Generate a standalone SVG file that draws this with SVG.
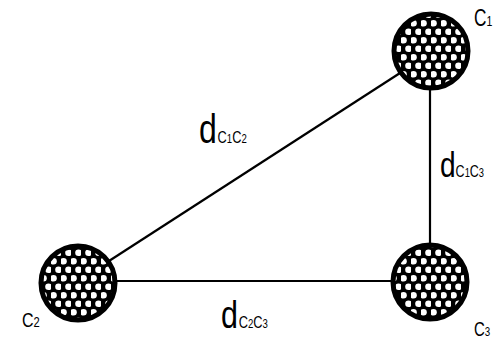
<svg xmlns="http://www.w3.org/2000/svg" width="493" height="339" viewBox="0 0 493 339">
<style>
.edge{stroke:#000;stroke-width:2.2;fill:none}
.node{fill:url(#dots);stroke:#000;stroke-width:5}
.lbl{font-family:"Liberation Sans",Arial,sans-serif;fill:#000}
</style>
<defs>
<pattern id="dots" patternUnits="userSpaceOnUse" width="10" height="17" x="1" y="2">
<rect width="10" height="17" fill="#000"/>
<circle cx="2.5" cy="4.25" r="3.3" fill="#fff"/>
<circle cx="7.5" cy="12.75" r="3.3" fill="#fff"/>
</pattern>
</defs>
<rect width="493" height="339" fill="#fff"/>
<g id="connectors">
<line class="edge" x1="78" y1="281" x2="431" y2="53"/>
<line class="edge" x1="78" y1="281" x2="430" y2="281"/>
<line class="edge" x1="430" y1="51" x2="430" y2="282"/>
</g>
<g id="c1">
<circle class="node" cx="431" cy="51" r="37"/>
<text class="lbl" transform="translate(474,26) scale(0.75,1)" font-size="23">C<tspan font-size="14">1</tspan></text>
</g>
<g id="c3">
<circle class="node" cx="430" cy="282" r="37"/>
<text class="lbl" transform="translate(474,336) scale(0.75,1)" font-size="20">C<tspan font-size="13">3</tspan></text>
</g>
<g id="c2">
<circle class="node" cx="78" cy="283" r="37"/>
<text class="lbl" transform="translate(22,327) scale(0.8,1)" font-size="20">C<tspan font-size="14">2</tspan></text>
</g>
<g id="labels">
<text class="lbl" transform="translate(199,143) scale(0.8,1)" font-size="40">d<tspan font-size="16" dx="1">C</tspan><tspan font-size="12">1</tspan><tspan font-size="16">C</tspan><tspan font-size="12">2</tspan></text>
<text class="lbl" transform="translate(221,328) scale(0.8,1)" font-size="38">d<tspan font-size="16" dx="1">C</tspan><tspan font-size="12">2</tspan><tspan font-size="16">C</tspan><tspan font-size="12">3</tspan></text>
<text class="lbl" transform="translate(440,177) scale(0.78,1)" font-size="36">d<tspan font-size="16" dx="0">C</tspan><tspan font-size="12">1</tspan><tspan font-size="16">C</tspan><tspan font-size="12">3</tspan></text>
</g>
</svg>
